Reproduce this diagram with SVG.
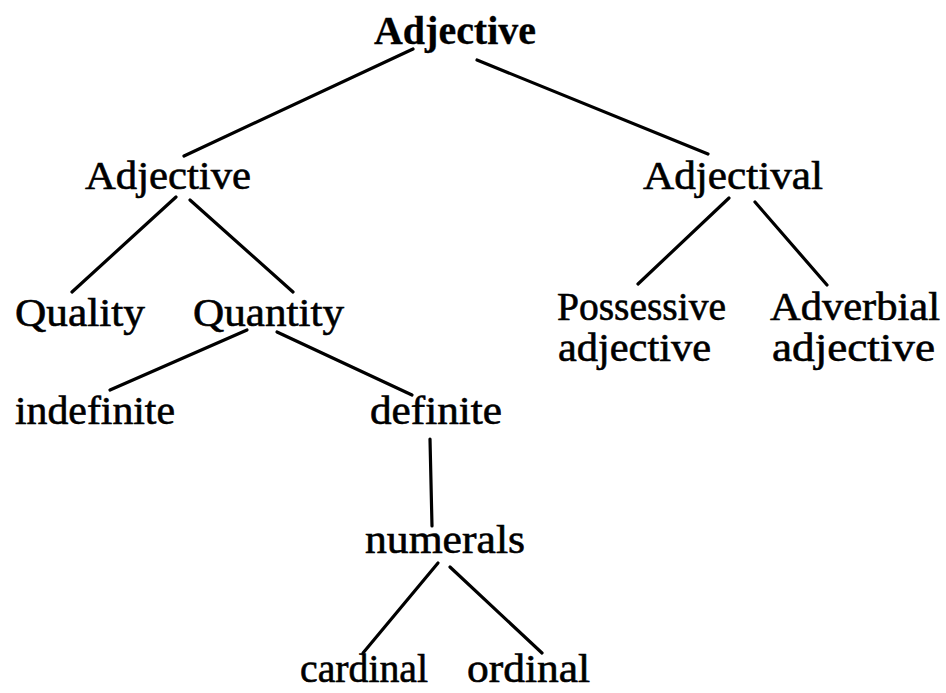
<svg xmlns="http://www.w3.org/2000/svg" width="946" height="693" viewBox="0 0 946 693">
<style>
text{font-family:"Liberation Serif","Times New Roman",serif;font-size:40px;fill:#000;stroke:#000;stroke-width:0.6px;}
.b{font-weight:bold;stroke-width:0.3px;}
.e line{stroke:#000;stroke-width:3.2;stroke-linecap:round;}
</style>
<rect width="946" height="693" fill="#fff"/>
<g class="e" id="connectors">
<line x1="413" y1="49" x2="184" y2="156"/>
<line x1="477" y1="60" x2="708" y2="154"/>
<line x1="176" y1="197" x2="72" y2="292"/>
<line x1="190" y1="200" x2="293" y2="292"/>
<line x1="729" y1="198" x2="638" y2="284"/>
<line x1="755" y1="202" x2="827" y2="285"/>
<line x1="247" y1="330" x2="110" y2="390"/>
<line x1="277" y1="332" x2="412" y2="395"/>
<line x1="430" y1="439" x2="432" y2="526"/>
<line x1="438" y1="563" x2="363" y2="653"/>
<line x1="450" y1="567" x2="542" y2="653"/>
</g>
<g id="n-root"><text class="b" x="374" y="44" textLength="162" lengthAdjust="spacingAndGlyphs">Adjective</text></g>
<g id="n-adjective"><text x="85" y="189" textLength="166" lengthAdjust="spacingAndGlyphs">Adjective</text></g>
<g id="n-adjectival"><text x="643" y="189" textLength="180" lengthAdjust="spacingAndGlyphs">Adjectival</text></g>
<g id="n-quality"><text x="15" y="326" textLength="130" lengthAdjust="spacingAndGlyphs">Quality</text></g>
<g id="n-quantity"><text x="193" y="326" textLength="151" lengthAdjust="spacingAndGlyphs">Quantity</text></g>
<g id="n-possessive"><text x="557" y="320" textLength="169" lengthAdjust="spacingAndGlyphs">Possessive</text><text x="558" y="361" textLength="153" lengthAdjust="spacingAndGlyphs">adjective</text></g>
<g id="n-adverbial"><text x="770" y="320" textLength="170" lengthAdjust="spacingAndGlyphs">Adverbial</text><text x="772" y="361" textLength="163" lengthAdjust="spacingAndGlyphs">adjective</text></g>
<g id="n-indefinite"><text x="15" y="424" textLength="160" lengthAdjust="spacingAndGlyphs">indefinite</text></g>
<g id="n-definite"><text x="370" y="424" textLength="132" lengthAdjust="spacingAndGlyphs">definite</text></g>
<g id="n-numerals"><text x="365" y="553" textLength="160" lengthAdjust="spacingAndGlyphs">numerals</text></g>
<g id="n-cardinal"><text x="300" y="682" textLength="128" lengthAdjust="spacingAndGlyphs">cardinal</text></g>
<g id="n-ordinal"><text x="467" y="682" textLength="123" lengthAdjust="spacingAndGlyphs">ordinal</text></g>
</svg>
